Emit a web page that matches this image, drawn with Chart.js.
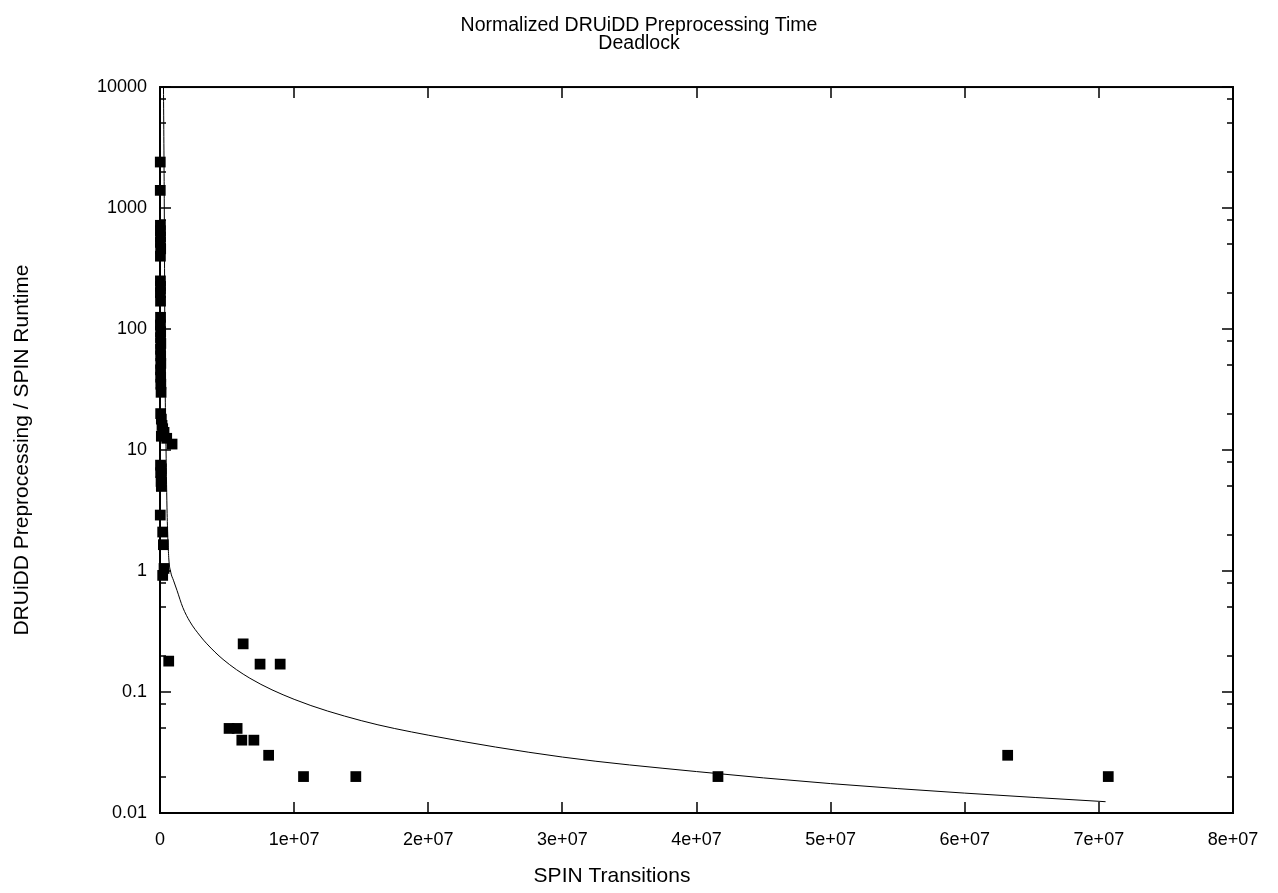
<!DOCTYPE html>
<html>
<head>
<meta charset="utf-8">
<script src="https://cdn.jsdelivr.net/npm/chart.js@4.4.0/dist/chart.umd.min.js"></script>
<style>
  html, body { margin: 0; padding: 0; background: #fff; }
</style>
</head>
<body>
<canvas id="chart" width="1278" height="893"></canvas>
<script>
// Datos
const clusterPoints = [
    [2e4, 2400], [2e4, 1400],
    [3e4, 720], [3e4, 650], [4e4, 580], [3e4, 520], [5e4, 460], [3e4, 400],
    [3e4, 250], [4e4, 225], [3e4, 200], [4e4, 170],
    [4e4, 125], [3e4, 108], [5e4, 95], [4e4, 85], [6e4, 76], [4e4, 68],
    [5e4, 60], [6e4, 52], [4e4, 46], [5e4, 40], [6e4, 35], [8e4, 30],
    [5e4, 20], [1e5, 18], [1.5e5, 16], [2e5, 15], [3e5, 14], [1e5, 13],
    [5e5, 12.5], [9e5, 11.2],
    [4e4, 7.5], [1e5, 7], [5e4, 6.5], [8e4, 5.5], [1e5, 5],
    [2e4, 2.9], [2e5, 2.1], [2.5e5, 1.65], [3e5, 1.05], [2e5, 0.92]
];
const farPoints = [
    [6.5e5, 0.18], [6.2e6, 0.25], [7.46e6, 0.17], [8.96e6, 0.17],
    [5.15e6, 0.05], [5.75e6, 0.05], [6.1e6, 0.04], [7.0e6, 0.04],
    [8.1e6, 0.03], [1.07e7, 0.02], [1.46e7, 0.02], [4.16e7, 0.02],
    [6.32e7, 0.03], [7.07e7, 0.02]
];
// curva de ajuste (valores estimados sobre la imagen)
const fitX = [2.6e5, 3.2e5, 3.6e5, 3.9e5, 4.5e5, 5.3e5, 6.5e5, 8e5, 1.0e6, 1.27e6, 1.7e6,
              2.24e6, 3e6, 3.5e6, 4.7e6, 6.7e6, 1e7, 1.5e7, 2e7, 3e7, 4e7, 5e7, 6e7, 7.05e7];
const fitY = [10000, 1000, 100, 30, 10, 3, 1.3, 0.98, 0.84, 0.69, 0.5,
              0.38, 0.29, 0.25, 0.186, 0.13, 0.087, 0.058, 0.044, 0.029, 0.022, 0.0175, 0.0146, 0.0124];

const xTickValues = [0, 1e7, 2e7, 3e7, 4e7, 5e7, 6e7, 7e7, 8e7];
const xTickLabels = ['0', '1e+07', '2e+07', '3e+07', '4e+07', '5e+07', '6e+07', '7e+07', '8e+07'];
const yTickValues = [0.01, 0.1, 1, 10, 100, 1000, 10000];
const yTickLabels = ['0.01', '0.1', '1', '10', '100', '1000', '10000'];
const yMinorValues = [0.02, 0.05, 0.08, 0.2, 0.5, 0.8, 2, 5, 8, 20, 50, 80,
                      200, 500, 800, 2000, 5000, 8000];
const xTitle = 'SPIN Transitions';

const FONT = "'Liberation Sans', Arial, sans-serif";

// Marco y marcas hacia dentro, al estilo gnuplot
const frameTicks = {
    id: 'frameTicks',
    beforeDatasetsDraw(chart) {
        const { ctx, chartArea: a, scales: { x, y } } = chart;
        ctx.save();
        ctx.strokeStyle = '#000';
        ctx.lineWidth = 1.5;
        ctx.beginPath();
        xTickValues.forEach(v => {
            const px = Math.round(x.getPixelForValue(v));
            ctx.moveTo(px, a.bottom); ctx.lineTo(px, a.bottom - 11);
            ctx.moveTo(px, a.top); ctx.lineTo(px, a.top + 11);
        });
        yTickValues.forEach(v => {
            const py = Math.round(y.getPixelForValue(v));
            ctx.moveTo(a.left, py); ctx.lineTo(a.left + 11, py);
            ctx.moveTo(a.right, py); ctx.lineTo(a.right - 11, py);
        });
        yMinorValues.forEach(v => {
            const py = Math.round(y.getPixelForValue(v));
            ctx.moveTo(a.left, py); ctx.lineTo(a.left + 6, py);
            ctx.moveTo(a.right, py); ctx.lineTo(a.right - 6, py);
        });
        ctx.stroke();
        ctx.lineWidth = 2;
        ctx.strokeRect(a.left, a.top, a.right - a.left, a.bottom - a.top);
        ctx.restore();
    },
    afterDraw(chart) {
        // el título del eje X está desplazado a la izquierda en el original
        const { ctx } = chart;
        ctx.save();
        ctx.fillStyle = '#000';
        ctx.font = '21px ' + FONT;
        ctx.textAlign = 'center';
        ctx.textBaseline = 'middle';
        ctx.fillText(xTitle, 612, 876);
        ctx.restore();
    }
};

const toXY = arr => arr.map(p => ({ x: p[0], y: p[1] }));

new Chart(document.getElementById('chart'), {
    type: 'scatter',
    data: {
        datasets: [
            {
                data: toXY(clusterPoints.concat(farPoints)),
                pointStyle: 'rect',
                radius: 7.6,
                hoverRadius: 7.6,
                backgroundColor: '#000',
                borderColor: '#000',
                borderWidth: 0,
                clip: false
            },
            {
                type: 'line',
                data: fitX.map((v, i) => ({ x: v, y: fitY[i] })),
                borderColor: '#000',
                borderWidth: 1,
                pointRadius: 0,
                fill: false,
                cubicInterpolationMode: 'monotone'
            }
        ]
    },
    options: {
        responsive: false,
        animation: false,
        layout: { padding: 0 },
        plugins: {
            legend: { display: false },
            tooltip: { enabled: false },
            title: {
                display: true,
                text: ['Normalized DRUiDD Preprocessing Time', 'Deadlock'],
                color: '#000',
                font: { family: FONT, size: 19.5, weight: 'normal', lineHeight: 0.95 },
                padding: { top: 16, bottom: 34 }
            }
        },
        scales: {
            x: {
                type: 'linear',
                min: 0,
                max: 8e7,
                afterBuildTicks: s => { s.ticks = xTickValues.map(v => ({ value: v })); },
                afterFit: s => { s.height = 80; },
                grid: { display: false, drawTicks: false },
                border: { display: false },
                ticks: {
                    color: '#000',
                    font: { family: FONT, size: 18 },
                    padding: 16,
                    maxRotation: 0,
                    callback: (v, i) => xTickLabels[i]
                }
            },
            y: {
                type: 'logarithmic',
                min: 0.01,
                max: 10000,
                afterBuildTicks: s => { s.ticks = yTickValues.map(v => ({ value: v })); },
                afterFit: s => { s.width = 160; },
                grid: { display: false, drawTicks: false },
                border: { display: false },
                ticks: {
                    color: '#000',
                    font: { family: FONT, size: 18 },
                    padding: 13,
                    callback: (v, i) => yTickLabels[i]
                },
                title: {
                    display: true,
                    text: 'DRUiDD Preprocessing / SPIN Runtime',
                    color: '#000',
                    font: { family: FONT, size: 21 },
                    padding: { top: 10, bottom: 0 }
                }
            },
            // eje vacío a la derecha: reserva el margen y centra el título en el lienzo
            yRight: {
                type: 'linear',
                position: 'right',
                afterFit: s => { s.width = 45; },
                grid: { display: false, drawTicks: false },
                border: { display: false },
                ticks: { display: false }
            }
        }
    },
    plugins: [frameTicks]
});
</script>
</body>
</html>
